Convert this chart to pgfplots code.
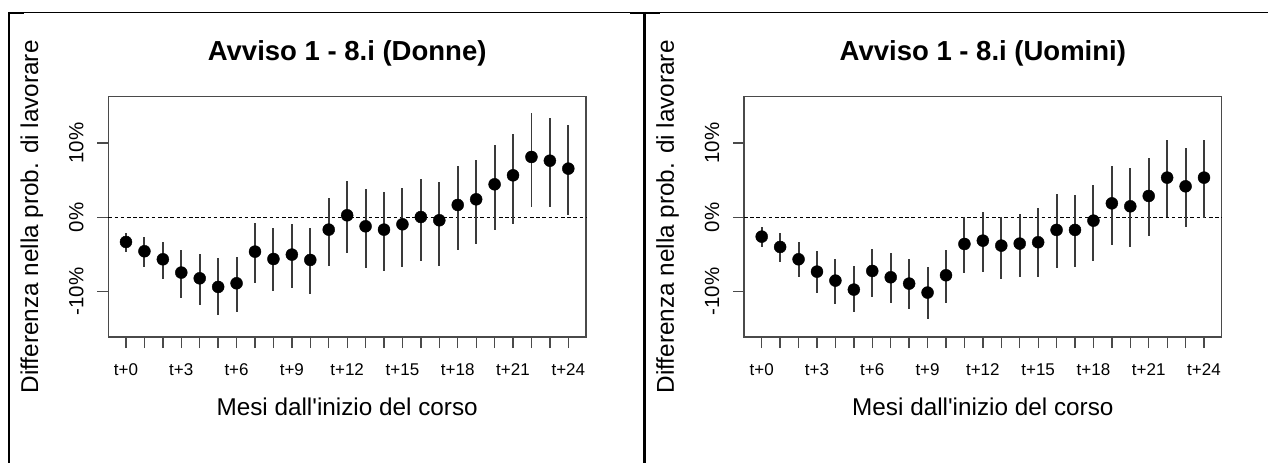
\documentclass[border=0pt]{standalone}
\usepackage{fontspec}
\setmainfont{Liberation Sans}
\usepackage{pgfplots}
\pgfplotsset{compat=1.18}
\usepackage{pgfplotstable}

\pgfplotstableread{
x y lo hi
0 -3.32 -4.71 -2.06
1 -4.57 -6.73 -2.69
2 -5.65 -8.25 -3.27
3 -7.44 -10.80 -4.39
4 -8.21 -11.75 -4.98
5 -9.37 -13.18 -5.52
6 -8.88 -12.69 -5.34
7 -4.62 -8.79 -0.72
8 -5.61 -9.91 -1.39
9 -5.02 -9.51 -0.94
10 -5.74 -10.36 -1.43
11 -1.66 -6.59 2.65
12 0.27 -4.75 4.89
13 -1.21 -6.86 3.81
14 -1.66 -7.22 3.36
15 -0.94 -6.68 3.95
16 0.04 -5.83 5.11
17 -0.40 -6.55 4.71
18 1.66 -4.39 6.95
19 2.42 -3.59 7.71
20 4.44 -1.70 9.78
21 5.65 -0.85 11.21
22 8.12 1.39 14.04
23 7.62 1.39 13.41
24 6.55 0.36 12.38
}\donne

\pgfplotstableread{
x y lo hi
0 -2.60 -4.04 -1.26
1 -3.99 -5.96 -2.06
2 -5.65 -7.98 -3.36
3 -7.31 -10.22 -4.53
4 -8.52 -11.61 -5.61
5 -9.73 -12.78 -6.50
6 -7.22 -10.67 -4.26
7 -8.07 -11.48 -4.75
8 -8.92 -12.38 -5.61
9 -10.13 -13.68 -6.68
10 -7.80 -11.52 -4.39
11 -3.59 -7.53 0.00
12 -3.14 -7.40 0.67
13 -3.81 -8.34 0.00
14 -3.54 -7.98 0.45
15 -3.36 -8.07 1.21
16 -1.70 -6.82 3.14
17 -1.70 -6.73 3.05
18 -0.45 -5.83 4.39
19 1.88 -3.72 6.95
20 1.48 -3.95 6.64
21 2.87 -2.51 8.03
22 5.34 0.00 10.36
23 4.17 -1.26 9.33
24 5.34 -0.04 10.40
}\uomini

\definecolor{errc}{HTML}{3A3A3A}
\definecolor{boxc}{HTML}{4A4A4A}

\pgfplotsset{
  rpanel/.style={
    scale only axis, width=477.7pt, height=240.3pt,
    xmin=-0.96, xmax=24.96, ymin=-16.11, ymax=16.23,
    axis line style={boxc, line width=1.3pt},
    tick align=outside, tick pos=left, major tick length=11pt,
    tick style={boxc, line width=1.3pt},
    xtick={0,...,24},
    xticklabels={t+0,,,t+3,,,t+6,,,t+9,,,t+12,,,t+15,,,t+18,,,t+21,,,t+24},
    ytick={-10,0,10}, yticklabels={-10\%,0\%,10\%},
    xticklabel style={font=\fontsize{17}{19}\selectfont, anchor=base, inner sep=0pt},
    xticklabel shift=27pt,
    yticklabel style={font=\fontsize{20.5}{22}\selectfont, rotate=90, anchor=base, inner sep=0pt},
    yticklabel shift=14pt,
    title style={font=\fontsize{27.5}{30}\selectfont\bfseries, at={(axis description cs:0.5,1.126)}, anchor=base, inner sep=0pt},
    xlabel style={font=\fontsize{24.3}{28}\selectfont, at={(axis description cs:0.5,-0.3246)}, anchor=base, inner sep=0pt},
    ylabel style={font=\fontsize{24.3}{28}\selectfont, at={(axis description cs:-0.147,0.5)}, anchor=base, inner sep=0pt},
    xlabel={Mesi dall\textquotesingle inizio del corso},
    ylabel={Differenza nella prob. di lavorare},
    clip=false,
  },
  rpoints/.style={only marks, mark=*, mark size=6pt, black,
    error bars/.cd, y dir=both, y explicit, error mark=none,
    error bar style={errc, line width=1.9pt}},
}

\begin{document}
\begin{tikzpicture}
\useasboundingbox (0pt,0pt) rectangle (1268pt,-463pt);

\begin{axis}[rpanel, at={(108.3pt,-337pt)}, anchor=south west,
  title={Avviso 1 - 8.i (Donne)}]
  \addplot[black, line width=1.4pt, dash pattern=on 3.6pt off 2.6pt, forget plot]
    coordinates {(-0.96,0) (24.96,0)};
  \addplot[rpoints] table[x=x, y=y,
    y error plus expr=\thisrow{hi}-\thisrow{y},
    y error minus expr=\thisrow{y}-\thisrow{lo}] {\donne};
\end{axis}

\begin{axis}[rpanel, at={(744pt,-337pt)}, anchor=south west,
  title={Avviso 1 - 8.i (Uomini)}]
  \addplot[black, line width=1.4pt, dash pattern=on 3.6pt off 2.6pt, forget plot]
    coordinates {(-0.96,0) (24.96,0)};
  \addplot[rpoints] table[x=x, y=y,
    y error plus expr=\thisrow{hi}-\thisrow{y},
    y error minus expr=\thisrow{y}-\thisrow{lo}] {\uomini};
\end{axis}

\draw[line width=1.3pt] (8pt,-12.4pt) -- (1268pt,-12.4pt);
\draw[line width=2.3pt] (8pt,-12.9pt) -- (24pt,-12.9pt);
\draw[line width=2.3pt] (630pt,-12.9pt) -- (660pt,-12.9pt);
\draw[line width=2.2pt] (9pt,-11.8pt) -- (9pt,-463pt);
\draw[line width=2.7pt] (644.7pt,-11.8pt) -- (644.7pt,-463pt);
\end{tikzpicture}
\end{document}
